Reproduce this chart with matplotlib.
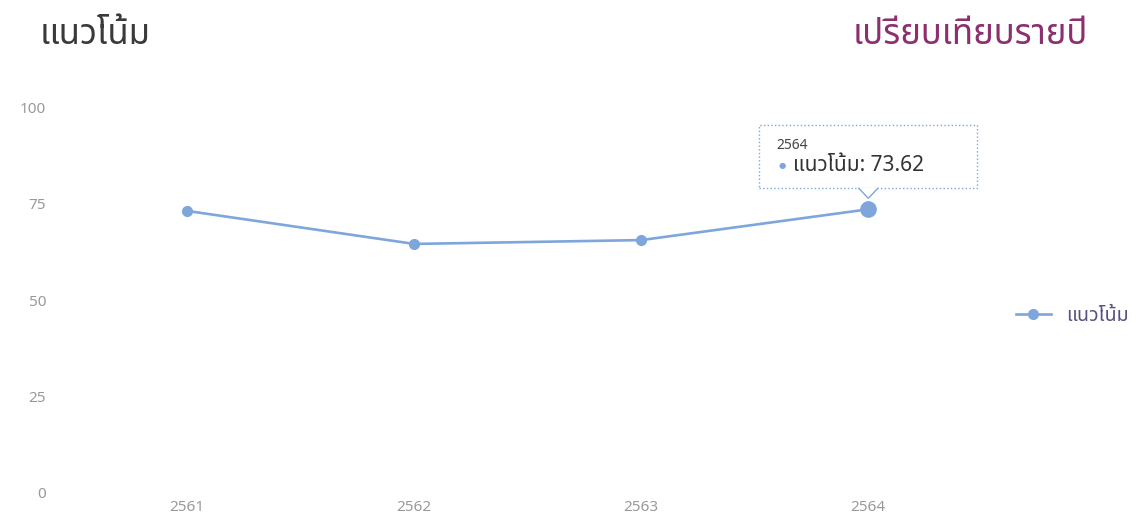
import matplotlib
matplotlib.use("Agg")
import matplotlib.pyplot as plt
import matplotlib.transforms as mtransforms
from matplotlib import font_manager
from matplotlib.ft2font import FT2Font
from matplotlib.patches import Rectangle, Polygon

# pick an installed font that has Thai glyphs
def find_thai_font():
    seen = []
    for f in font_manager.fontManager.ttflist:
        try:
            if ord("แ") in FT2Font(f.fname).get_charmap():
                seen.append(f.name)
        except Exception:
            pass
    for pref in ["Noto Sans Thai", "Noto Sans Thai UI", "Noto Sans", "Open Sans", "Roboto"]:
        if pref in seen:
            return pref
    return seen[0] if seen else "DejaVu Sans"

thai = find_thai_font()
plt.rcParams["font.family"] = [thai, "DejaVu Sans"]

years = ["2561", "2562", "2563", "2564"]
values = [73.2, 64.6, 65.6, 73.62]
yticks = [0, 25, 50, 75, 100]
series_name = "แนวโน้ม"

line_color = "#7EA6DB"
tick_color = "#999999"

fig = plt.figure(figsize=(11.36, 5.2), dpi=100)
ax = fig.add_axes([60 / 1136, 28 / 520, 940 / 1136, 384 / 520])

x = list(range(len(years)))
ax.plot(x, values, color=line_color, lw=1.9, marker="o", ms=7, clip_on=False,
        label=series_name)
# hovered point
ax.plot([x[-1]], [values[-1]], "o", color=line_color, ms=11, clip_on=False)

ax.set_xlim(-0.56, 3.58)
ax.set_ylim(0, 100)
ax.set_xticks(x)
ax.set_xticklabels(years)
ax.set_yticks(yticks)
ax.tick_params(axis="both", length=0, labelsize=11, colors=tick_color)
ax.tick_params(axis="y", pad=10)
ax.tick_params(axis="x", pad=6)
for s in ax.spines.values():
    s.set_visible(False)

fig.text(40 / 1136, 1 - 35 / 520, "แนวโน้ม", fontsize=25, color="#3a3a3a",
         va="center", ha="left")
fig.text(1088 / 1136, 1 - 35 / 520, "เปรียบเทียบรายปี", fontsize=25,
         color="#8B2F6E", va="center", ha="right")

leg = fig.legend(loc="center left", bbox_to_anchor=(998 / 1136, 1 - 316 / 520),
                 frameon=False, fontsize=14, handlelength=1.8, labelcolor="#5a5080")

# tooltip anchored to the last point, offsets in pixels
tr = mtransforms.IdentityTransform() + mtransforms.ScaledTranslation(
    x[-1], values[-1], ax.transData)
box = Rectangle((-109, 21), 218, 63, transform=tr, fc="white", ec=line_color,
                lw=1, ls=":", clip_on=False, zorder=5)
fig.add_artist(box)
tri = Polygon([(-10, 21.5), (0, 11), (10, 21.5)], closed=False, transform=tr,
              fc="white", ec=line_color, lw=1, clip_on=False, zorder=6)
fig.add_artist(tri)
fig.text(-92, 64, years[-1], transform=tr, fontsize=10, color="#444444",
         va="center", ha="left", zorder=7)
fig.text(-90, 44, "●", transform=tr, fontsize=6, color=line_color,
         va="center", ha="left", zorder=7)
fig.text(-75, 44, f"{series_name}: {values[-1]:.2f}", transform=tr, fontsize=15,
         color="#333333", va="center", ha="left", zorder=7)

fig.savefig("out.png", dpi=100)
